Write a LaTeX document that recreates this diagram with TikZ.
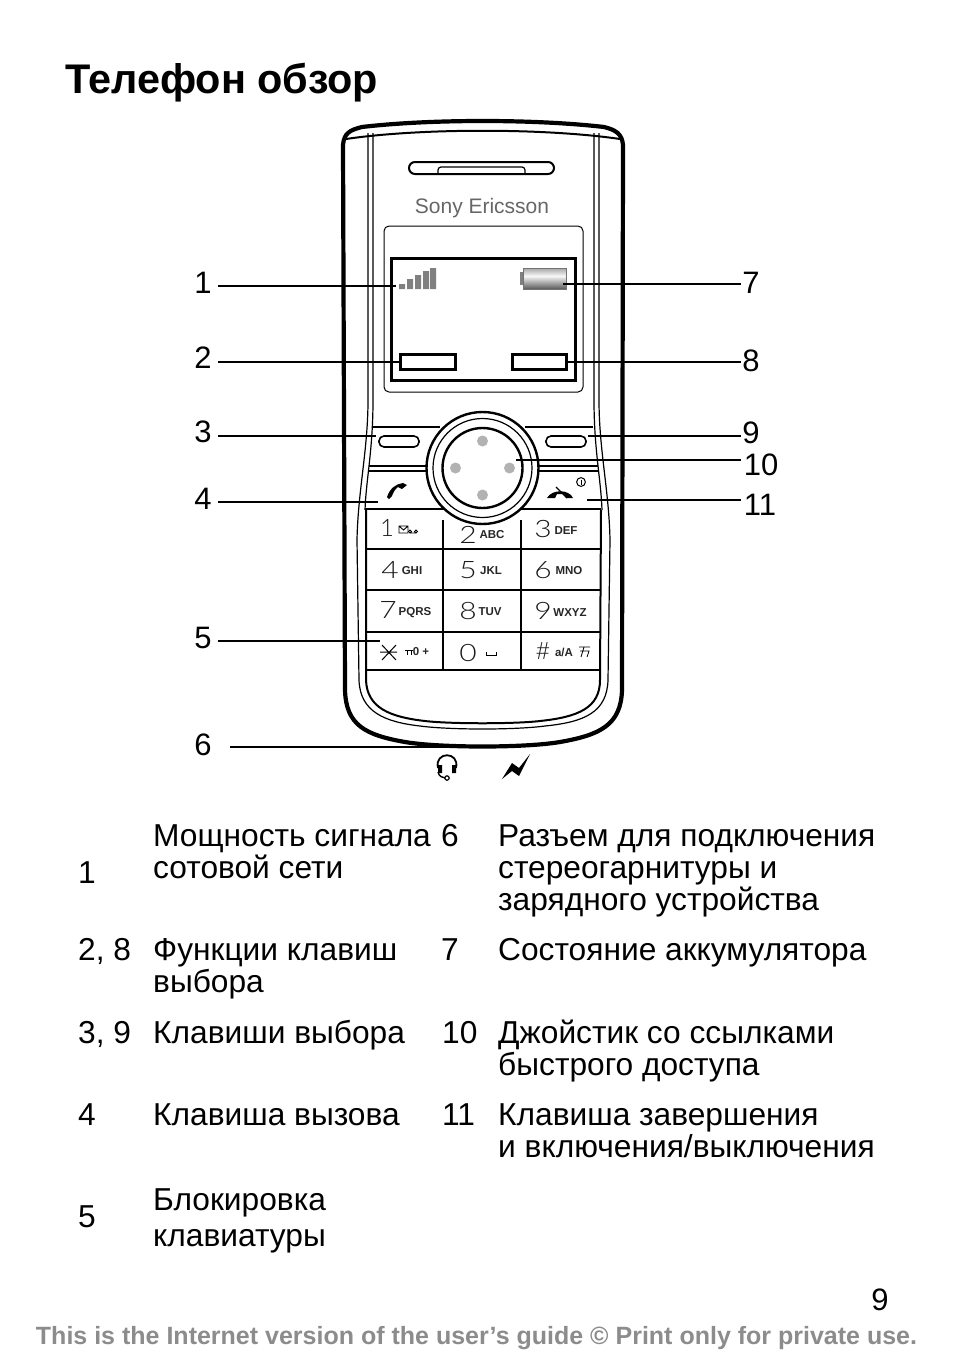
\documentclass[tikz,border=0pt]{standalone}
\usepackage{fontspec}
\usepackage{graphicx}
\setmainfont{Liberation Sans}
\newfontfamily\keyfont[Numbers=Lining]{Lato Light}
\usepackage{tikz}

\newcommand{\keyglyph}[1]{\scalebox{1.25}[1]{#1}}

\tikzset{
  callout/.style={inner sep=0pt,font=\fontsize{31}{32}\selectfont},
  cell/.style={anchor=north west,inner sep=0pt,align=left,font=\fontsize{31.7}{32}\selectfont},
  row/.style={anchor=base west,inner sep=0pt,font=\fontsize{31.7}{32}\selectfont},
  digit/.style={anchor=center,inner sep=0pt,font=\keyfont\fontsize{24}{24}\selectfont,color=black!90},
  letters/.style={anchor=center,inner sep=0pt,font=\bfseries\fontsize{11.5}{11.5}\selectfont,color=black!85},
  leader/.style={line width=1.8pt},
  hull/.style={line width=4.2pt,line join=round},
  trim/.style={line width=1.2pt},
  keyline/.style={line width=2pt}
}

\begin{document}
\begin{tikzpicture}[x=1pt,y=-1pt]
\useasboundingbox (0,0) rectangle (954,1354);
\node[anchor=base west,inner sep=0pt,font=\bfseries\fontsize{41.4}{41.4}\selectfont] (title) at (65,93.5) {Телефон обзор};

% phone body
\draw[hull] (343,145) .. controls (344,133) and (350,130) .. (362,127) .. controls (430,119) and (535,119) .. (604,127) .. controls (616,130) and (622,134) .. (623,145) -- (622,690) .. controls (621,725) and (600,735) .. (560,742) .. controls (525,748) and (440,748) .. (405,742) .. controls (365,735) and (346,725) .. (345,690) -- cycle;
\draw[line width=2pt] (346,139) .. controls (420,128) and (545,128) .. (620,139);
\draw[trim] (368,133) -- (368,400) .. controls (368,450) and (358,490) .. (357,540) -- (359,680) .. controls (360,712) and (385,722) .. (420,726) .. controls (450,730) and (515,730) .. (545,726) .. controls (585,722) and (607,712) .. (608,680) -- (610,540) .. controls (609,490) and (599,450) .. (599,400) -- (599,133);
\draw[trim] (373,133) -- (373,400) .. controls (373,450) and (366,480) .. (365,510);
\draw[trim] (594,133) -- (594,400) .. controls (594,450) and (601,480) .. (602,510);
\draw[line width=2pt] (366,510) -- (366,680) .. controls (367,708) and (390,717) .. (425,721) .. controls (450,724) and (515,724) .. (540,721) .. controls (578,717) and (600,708) .. (600,680) -- (601,510);

% speaker and logo
\draw[line width=2pt,rounded corners=6pt] (409,162) rectangle (554,174);
\draw[trim,rounded corners=3pt] (438,174) -- (438,167) -- (525,167) -- (525,174);
\node[inner sep=0pt,text=black!60,font=\fontsize{21}{21}\selectfont] (logo) at (482,208) {Sony Ericsson};

% display
\draw[line width=1pt,rounded corners=5pt] (384,226) rectangle (583,392);
\draw[line width=3.6pt] (391.5,258.5) rectangle (575.5,380.5);
\fill[black!50] (399,284) rectangle (405,289) (407,279) rectangle (413,289) (415,275) rectangle (421,289) (423,271) rectangle (429,289) (430,268) rectangle (436,289);
\shade[top color=black!35,bottom color=black!3] (523,268) rectangle (566,276);
\shade[top color=black!3,bottom color=black!65] (523,276) rectangle (566,289);
\draw[black!55,line width=.8pt] (523,268) rectangle (566,289);
\fill[black!50] (520,272) rectangle (523,285);
\node[draw,line width=2.6pt,minimum width=55pt,minimum height=15pt,inner sep=0pt] (softleft) at (428,362) {};
\node[draw,line width=2.6pt,minimum width=54pt,minimum height=15pt,inner sep=0pt] (softright) at (539.5,362) {};

% keys round the joystick
\draw[keyline] (373,427) -- (440,427) (525,427) -- (593,427);
\draw[keyline] (369,466) -- (428,466) (369,471) -- (428,471) (538,466) -- (598,466) (538,471) -- (598,471);
\draw[keyline] (365,508.5) -- (601,508.5);
\draw[line width=1.6pt,rounded corners=5pt] (379,436) rectangle (419,447);
\draw[line width=1.6pt,rounded corners=5pt] (546,436) rectangle (586,447);
\fill[white] (482.5,468) circle (56);
\draw[line width=2.4pt] (482.5,468) circle (56);
\draw[line width=1.2pt] (482.5,468) circle (49.5);
\draw[line width=2.4pt] (482.5,468) circle (40);
\fill[black!30] (482.5,441) circle (5.5) (482.5,495) circle (5.5) (455.5,468) circle (5.5) (509.5,468) circle (5.5);

% call and end icons
\fill (387,497) .. controls (390,488) and (396,484) .. (403,483) -- (407,485) -- (402,489) -- (398,487) .. controls (395,489) and (393,493) .. (392,496) -- (389,499) -- cycle;
\fill (547,498) .. controls (552,489) and (569,489) .. (573,498) -- (566,498) -- (564,494) -- (557,494) -- (555,498) -- cycle;
\draw[line width=1.2pt] (556,487) -- (567,498);
\draw[line width=1pt] (581,482) circle (4.4);
\draw[line width=1pt] (581,479.5) -- (581,484.5);

% keypad
\draw[keyline] (366,549) -- (601,549) (366,590) -- (601,590) (366,632) -- (601,632) (367,670) -- (600,670);
\draw[keyline] (443,520) -- (443,670) (521,520) -- (521,670);
\node[digit] (k1) at (387,528) {1};
\node[digit] (k2) at (468,535) {\keyglyph{2}};
\node[digit] (k3) at (543,529) {\keyglyph{3}};
\node[digit] (k4) at (390,570) {\keyglyph{4}};
\node[digit] (k5) at (468,570) {\keyglyph{5}};
\node[digit] (k6) at (543,570) {\keyglyph{6}};
\node[digit] (k7) at (388,610) {\keyglyph{7}};
\node[digit] (k8) at (468,611) {\keyglyph{8}};
\node[digit] (k9) at (543,611) {\keyglyph{9}};
\node[digit] (k0) at (468,653) {\keyglyph{0}};
\node[digit] (khash) at (543,651) {\#};
\node[letters] (abc) at (492,535) {ABC};
\node[letters] (def) at (566,531) {DEF};
\node[letters] (ghi) at (412,571) {GHI};
\node[letters] (jkl) at (491,571) {JKL};
\node[letters] (mno) at (569,571) {MNO};
\node[letters] (pqrs) at (415,613) {PQRS};
\node[letters] (tuv) at (490,612) {TUV};
\node[letters] (wxyz) at (570,613) {WXYZ};
\node[letters] (lock) at (421,652) {0 +};
\node[letters] (case) at (564,652) {a/A};
\draw[line width=1pt] (380,652) -- (397,652) (382,645) -- (396,660) (396,645) -- (382,660);
\draw[line width=.9pt] (399,526) rectangle (408,533) (399,526) -- (403.5,530) -- (408,526);
\draw[line width=.8pt] (410,531.5) circle (1.5) (416,531.5) circle (1.5) (410,533) -- (416,533);
\draw[line width=1pt] (405,650) -- (413,650) (407,650) -- (407,655) (411,650) -- (411,655);
\draw[line width=1pt] (486,652) -- (486,655) -- (496,655) -- (496,652);
\draw[line width=.8pt] (579,647) -- (590,647) (584,647) -- (581,657) (580,651) -- (589,651) -- (587,657);

% connector icons
\draw[line width=1.8pt] (438,768) .. controls (434,751) and (460,751) .. (456,768);
\fill (438,765) rectangle (442,773) (452,765) rectangle (456,773);
\draw[line width=1.4pt] (438,772) .. controls (439,776) and (442,778) .. (445,778);
\draw[line width=1.2pt] (447,778) circle (2.2);
\fill (502,779) -- (512,763) -- (519,768) -- (530,754) -- (519,776) -- (512,771) -- cycle;

% numbers and leaders
\node[callout] (n1) at (203,283) {1};
\node[callout] (n2) at (203,358) {2};
\node[callout] (n3) at (203,432) {3};
\node[callout] (n4) at (203,499) {4};
\node[callout] (n5) at (203,638) {5};
\node[callout] (n6) at (203,745) {6};
\node[callout] (n7) at (751,283) {7};
\node[callout] (n8) at (751,361) {8};
\node[callout] (n9) at (751,433) {9};
\node[callout] (n10) at (761,465) {10};
\node[callout] (n11) at (760,505) {11};
\coordinate (signal) at (396,286);
\coordinate (battery) at (563,284);
\coordinate (selectleft) at (376,436);
\coordinate (selectright) at (588,436);
\coordinate (joystick) at (516,460);
\coordinate (callkey) at (378,502);
\coordinate (endkey) at (587,500);
\coordinate (lockkey) at (380,641);
\coordinate (jack) at (478,747);

\draw[leader] (218,286) -- (signal);
\draw[leader] (218,362) -- (softleft.west);
\draw[leader] (218,436) -- (selectleft);
\draw[leader] (218,502) -- (callkey);
\draw[leader] (218,641) -- (lockkey);
\draw[leader] (230,747) -- (jack);
\draw[leader] (battery) -- (741,284);
\draw[leader] (softright.east) -- (741,362);
\draw[leader] (selectright) -- (741,436);
\draw[leader] (joystick) -- (741,460);
\draw[leader] (endkey) -- (741,500);

% table
\node[row] (r1) at (78,883) {1};
\node[row] (r2) at (78,960) {2, 8};
\node[row] (r3) at (78,1043) {3, 9};
\node[row] (r4) at (78,1125) {4};
\node[row] (r5) at (78,1227) {5};
\node[row] (r6) at (441,846) {6};
\node[row] (r7) at (441,960) {7};
\node[row] (r10) at (442,1043) {10};
\node[row] (r11) at (442,1125) {11};
\node[cell] (t1) at (153,824) {Мощность сигнала\\сотовой сети};
\node[cell] (t2) at (153,938) {Функции клавиш\\выбора};
\node[cell] (t3) at (153,1020) {Клавиши выбора};
\node[cell] (t4) at (153,1103) {Клавиша вызова};
\node[cell,font=\fontsize{31.7}{36}\selectfont] (t5) at (153,1188) {Блокировка\\клавиатуры};
\node[cell] (t6) at (498,824) {Разъем для подключения\\стереогарнитуры и\\зарядного устройства};
\node[cell] (t7) at (498,938) {Состояние аккумулятора};
\node[cell,font=\fontsize{31.7}{31.5}\selectfont] (t10) at (498,1020) {Джойстик со ссылками\\быстрого доступа};
\node[cell] (t11) at (498,1103) {Клавиша завершения\\и включения/выключения};

\node[inner sep=0pt,font=\fontsize{31}{32}\selectfont] (page) at (880,1300) {9};
\node[inner sep=0pt,text=black!45,font=\bfseries\fontsize{25}{25}\selectfont] (footer) at (476.5,1338) {This is the Internet version of the user’s guide © Print only for private use.};
\end{tikzpicture}
\end{document}
